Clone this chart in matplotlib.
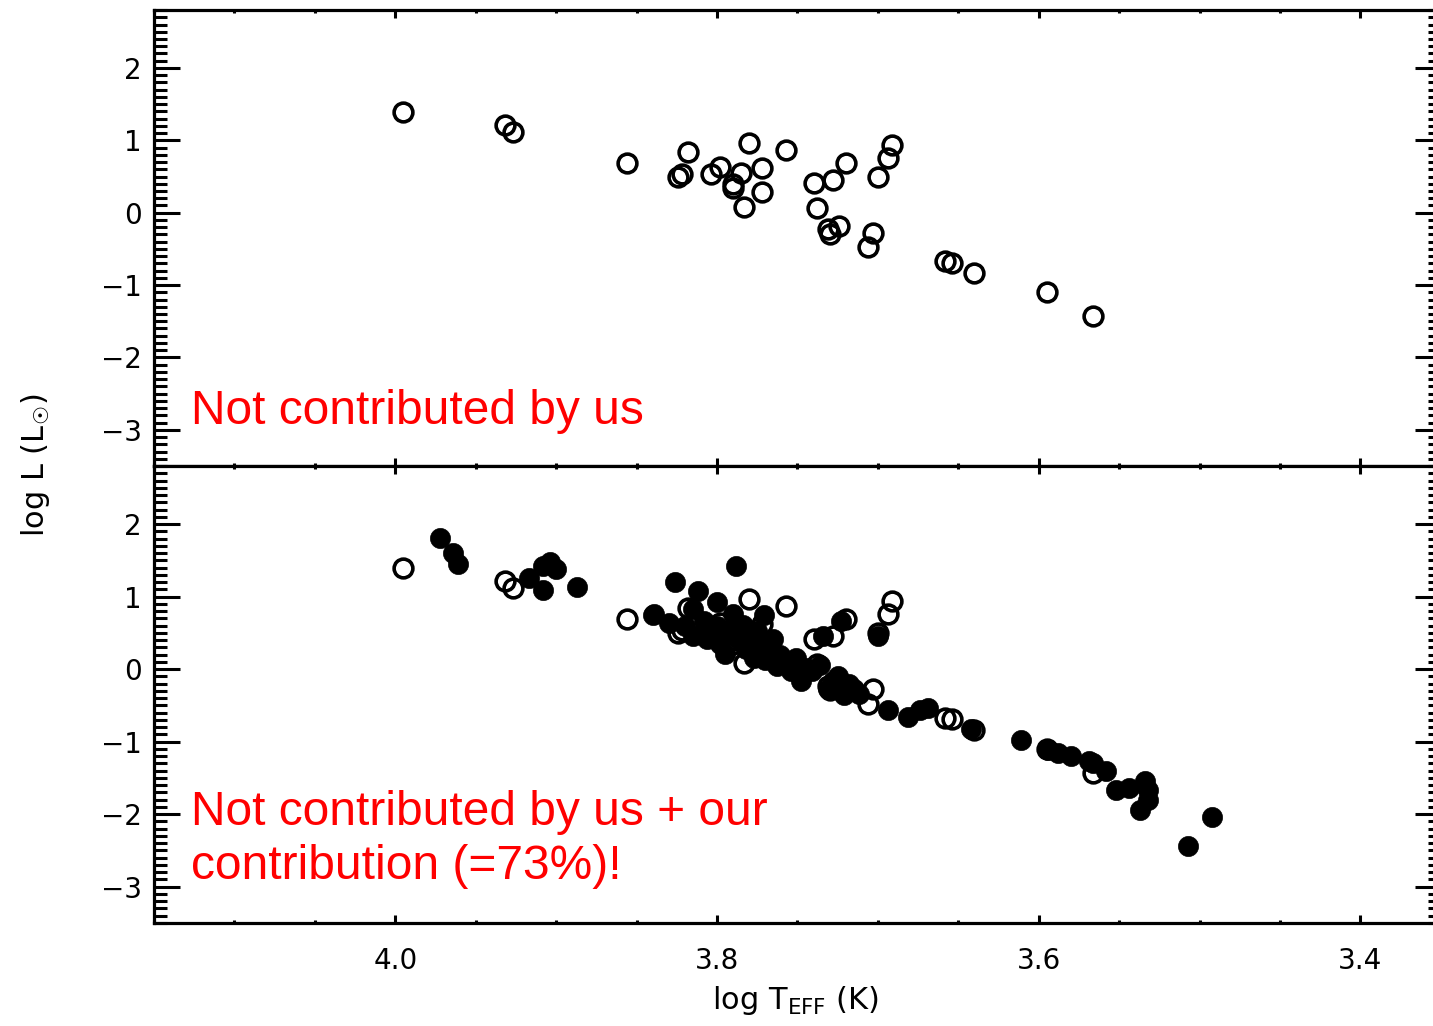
import matplotlib
matplotlib.use("Agg")
import matplotlib.pyplot as plt
from matplotlib.ticker import MultipleLocator

# ---------------- data ----------------
open_teff = [3.995, 3.932, 3.927, 3.856, 3.824, 3.822, 3.818, 3.804, 3.798, 3.790,
             3.790, 3.785, 3.780, 3.783, 3.772, 3.772, 3.757, 3.740, 3.738, 3.731,
             3.730, 3.728, 3.724, 3.720, 3.706, 3.703, 3.700, 3.694, 3.691, 3.658,
             3.654, 3.640, 3.595, 3.566]
open_logl = [1.39, 1.21, 1.12, 0.69, 0.50, 0.54, 0.84, 0.54, 0.63, 0.34,
             0.40, 0.55, 0.96, 0.08, 0.62, 0.28, 0.87, 0.41, 0.07, -0.23,
             -0.29, 0.45, -0.18, 0.69, -0.48, -0.28, 0.50, 0.76, 0.94, -0.67,
             -0.69, -0.84, -1.10, -1.43]

filled_teff = [3.972, 3.964, 3.961, 3.917, 3.908, 3.904, 3.900, 3.908, 3.887, 3.840,
               3.839, 3.830, 3.826, 3.820, 3.815, 3.815, 3.812, 3.808, 3.806, 3.803,
               3.800, 3.800, 3.798, 3.795, 3.794, 3.790, 3.788, 3.787, 3.784, 3.782,
               3.779, 3.777, 3.775, 3.773, 3.771, 3.770, 3.767, 3.765, 3.763, 3.761,
               3.757, 3.754, 3.751, 3.748, 3.745, 3.741, 3.736, 3.734, 3.731, 3.728,
               3.725, 3.723, 3.723, 3.721, 3.718, 3.715, 3.712, 3.700, 3.694, 3.681,
               3.674, 3.669, 3.642, 3.611, 3.594, 3.588, 3.580, 3.569, 3.566, 3.558,
               3.552, 3.544, 3.534, 3.532, 3.532, 3.537, 3.492, 3.507]
filled_logl = [1.81, 1.60, 1.45, 1.26, 1.42, 1.48, 1.38, 1.09, 1.13, 0.75,
               0.76, 0.64, 1.20, 0.59, 0.83, 0.46, 1.08, 0.67, 0.42, 0.59,
               0.93, 0.60, 0.35, 0.21, 0.53, 0.76, 1.42, 0.42, 0.61, 0.28,
               0.49, 0.15, 0.52, 0.31, 0.74, 0.12, 0.26, 0.42, 0.04, 0.20,
               0.10, -0.02, 0.15, -0.17, 0.01, -0.02, 0.05, 0.45, -0.27, -0.16,
               -0.09, 0.67, -0.27, -0.36, -0.21, -0.27, -0.34, 0.45, -0.57, -0.66,
               -0.57, -0.54, -0.82, -0.98, -1.12, -1.16, -1.20, -1.27, -1.30, -1.41,
               -1.67, -1.64, -1.54, -1.67, -1.80, -1.94, -2.04, -2.44]

top_label = "Not contributed by us"
bottom_label_1 = "Not contributed by us + our"
bottom_label_2 = "contribution (=73%)!"
x_ticks = [4.0, 3.8, 3.6, 3.4]
x_ticklabels = ["4.0", "3.8", "3.6", "3.4"]
y_ticks = [-3, -2, -1, 0, 1, 2]

# ---------------- figure ----------------
plt.rcParams['font.family'] = ['DejaVu Sans']
plt.rcParams['mathtext.fontset'] = 'dejavusans'

fig = plt.figure(figsize=(14.33, 10.26), dpi=100)
left, width = 0.1075, 0.898
ax1 = fig.add_axes([left, 0.5458, width, 0.4444])
ax2 = fig.add_axes([left, 0.1004, width, 0.4454])

for ax in (ax1, ax2):
    ax.set_xlim(4.15, 3.35)
    ax.set_ylim(-3.5, 2.8)
    ax.set_xticks(x_ticks)
    ax.xaxis.set_minor_locator(MultipleLocator(0.05))
    ax.set_yticks(y_ticks)
    ax.yaxis.set_minor_locator(MultipleLocator(0.1))
    for s in ax.spines.values():
        s.set_linewidth(2.3)
    ax.tick_params(axis='x', which='major', direction='in', length=6, width=2.2,
                   top=True, bottom=True, labelsize=20, pad=17)
    ax.tick_params(axis='x', which='minor', direction='in', length=2.5, width=2.2,
                   top=True, bottom=True)
    ax.tick_params(axis='y', which='major', direction='in', length=19, width=2.2,
                   left=True, right=True, labelsize=20, pad=9)
    ax.tick_params(axis='y', which='minor', direction='in', length=9.5, width=2.2,
                   left=True, right=True)
    ax.set_yticklabels(["\u22123", "\u22122", "\u22121", "0", "1", "2"])

ax1.tick_params(axis='x', which='both', labelbottom=False)
ax2.set_xticklabels(x_ticklabels)

# top panel
ax1.plot(open_teff, open_logl, linestyle='none', marker='o', markersize=13.5,
         markerfacecolor='none', markeredgecolor='black', markeredgewidth=2.6)

# bottom panel
ax2.plot(open_teff, open_logl, linestyle='none', marker='o', markersize=13.5,
         markerfacecolor='none', markeredgecolor='black', markeredgewidth=2.6)
ax2.plot(filled_teff, filled_logl, linestyle='none', marker='o', markersize=14.5,
         markerfacecolor='black', markeredgecolor='black', markeredgewidth=0.5)

ax1.text(0.029, 0.092, top_label, transform=ax1.transAxes, color='red',
         fontsize=34.5, family=['Liberation Sans'], va='baseline', ha='left')
ax2.text(0.029, 0.2144, bottom_label_1, transform=ax2.transAxes, color='red',
         fontsize=34.5, family=['Liberation Sans'], va='baseline', ha='left')
ax2.text(0.029, 0.096, bottom_label_2, transform=ax2.transAxes, color='red',
         fontsize=34.5, family=['Liberation Sans'], va='baseline', ha='left')

fig.text(0.0245, 0.5468, "log L (L$_{☉}$)", rotation=90, fontsize=22,
         ha='center', va='center')
fig.text(0.555, 0.025, r"log T$_{\rm EFF}$ (K)", fontsize=22,
         ha='center', va='center')

fig.savefig("out.png", dpi=100)
